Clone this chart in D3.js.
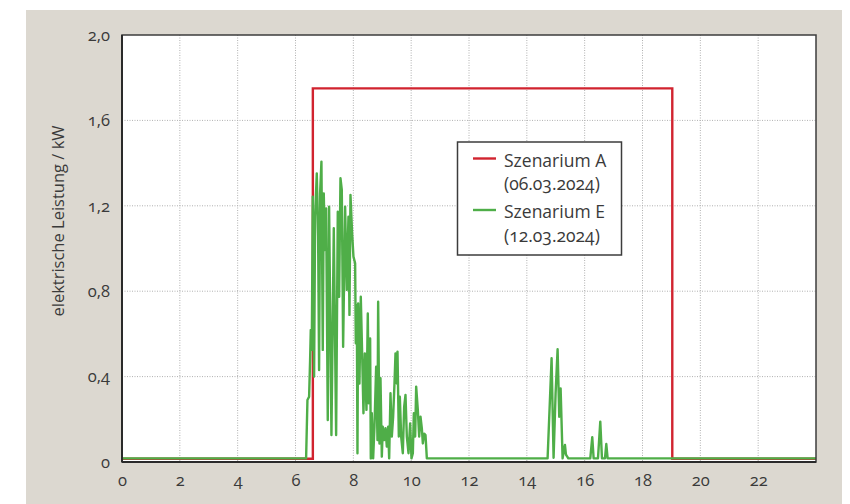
<!DOCTYPE html>
<html><head><meta charset="utf-8">
<script src="https://cdn.jsdelivr.net/npm/d3@7"></script>
<style>
html,body{margin:0;padding:0;background:#fff;}
svg text{font-family:"Open Sans",sans-serif;font-feature-settings:"onum" 1;font-variant-numeric:oldstyle-nums;fill:#3a3a3a;}
</style></head>
<body><svg id="c" width="850" height="504"></svg>
<script>
const xTicks = [0,2,4,6,8,10,12,14,16,18,20,22];
const yTicks = [0,0.4,0.8,1.2,1.6,2.0];
const yTickLabels = ["0","0,4","0,8","1,2","1,6","2,0"];
const yTitle = "elektrische Leistung / kW";
const seriesNames = ["Szenarium A","Szenarium E"];
const seriesDates = ["(06.03.2024)","(12.03.2024)"];

const redHours  = [0, 6.6, 6.6, 19.03, 19.03, 24];
const redValues = [0.015, 0.015, 1.75, 1.75, 0.015, 0.015];

const greenHours = [0,6.367,6.413,6.47,6.505,6.528,6.563,6.597,6.643,6.678,6.736,6.782,6.816,6.851,6.897,6.943,6.978,7.013,7.059,7.116,7.162,7.209,7.243,7.324,7.405,7.462,7.509,7.555,7.601,7.647,7.716,7.774,7.831,7.866,7.901,7.958,8.004,8.062,8.085,8.12,8.143,8.166,8.212,8.258,8.304,8.35,8.397,8.454,8.5,8.535,8.581,8.604,8.639,8.685,8.731,8.789,8.835,8.858,8.904,8.939,8.985,9.019,9.066,9.112,9.158,9.204,9.239,9.285,9.331,9.377,9.423,9.458,9.504,9.527,9.573,9.608,9.654,9.711,9.758,9.804,9.85,9.908,9.965,10.011,10.058,10.092,10.138,10.173,10.23,10.277,10.323,10.369,10.404,10.45,10.496,10.542,14.718,14.856,14.925,14.995,15.064,15.121,15.168,15.237,15.271,15.318,15.352,15.387,15.433,16.194,16.263,16.31,16.46,16.54,16.598,16.702,16.748,16.794,24];
const greenValues = [0.017,0.017,0.29,0.306,0.478,0.618,0.525,1.243,0.40,1.149,1.352,1.055,0.431,1.258,1.407,0.525,1.258,0.993,1.188,0.197,1.196,0.587,0.126,1.095,0.126,1.172,0.774,1.329,1.274,0.54,1.196,0.806,1.149,0.689,1.251,1.071,0.962,0.931,0.556,0.735,0.041,0.743,0.368,0.774,0.509,0.228,0.509,0.244,0.696,0.275,0.579,0.017,0.228,0.017,0.165,0.446,0.103,0.751,0.087,0.392,0.025,0.165,0.103,0.158,0.072,0.165,0.017,0.322,0.119,0.212,0.368,0.509,0.368,0.517,0.119,0.306,0.119,0.041,0.259,0.314,0.119,0.041,0.181,0.017,0.041,0.228,0.119,0.353,0.244,0.119,0.212,0.158,0.087,0.133,0.126,0.017,0.017,0.486,0.02,0.322,0.528,0.212,0.345,0.017,0.048,0.08,0.035,0.027,0.017,0.017,0.116,0.017,0.017,0.189,0.017,0.017,0.084,0.017,0.017];

const svg = d3.select("#c");
const m = {left:122, top:35, right:816, bottom:462};
svg.append("rect").attr("x",26).attr("y",10).attr("width",816).attr("height",494).attr("fill","#dcd8d0");

const x = d3.scaleLinear().domain([0,24]).range([m.left,m.right]);
const y = d3.scaleLinear().domain([0,2]).range([m.bottom,m.top]);

svg.append("rect").attr("x",m.left).attr("y",m.top).attr("width",m.right-m.left).attr("height",m.bottom-m.top).attr("fill","#fff");

// grid
const g = svg.append("g");
g.selectAll("line.vx").data(xTicks.filter(d=>d>0)).join("line")
 .attr("x1",d=>x(d)).attr("x2",d=>x(d)).attr("y1",m.top).attr("y2",m.bottom)
 .attr("stroke","#b0b0b0").attr("stroke-width",1).attr("stroke-dasharray","1,1.5");
g.selectAll("line.hy").data(yTicks.filter(d=>d>0&&d<2)).join("line")
 .attr("y1",d=>y(d)).attr("y2",d=>y(d)).attr("x1",m.left).attr("x2",m.right)
 .attr("stroke","#b0b0b0").attr("stroke-width",1).attr("stroke-dasharray","1,1.5");

// axes
const xAxis = d3.axisBottom(x).tickValues(xTicks).tickSize(0).tickPadding(12).tickFormat(d=>String(d));
const ax = svg.append("g").attr("transform",`translate(0,${m.bottom})`).call(xAxis);
ax.select(".domain").remove();
ax.selectAll("text").attr("font-size",16.5).attr("fill","#3a3a3a").style("font-family",'"Open Sans",sans-serif');

const yAxis = d3.axisLeft(y).tickValues(yTicks).tickSize(0).tickPadding(12).tickFormat((d,i)=>yTickLabels[i]);
const ay = svg.append("g").attr("transform",`translate(${m.left},0)`).call(yAxis);
ay.select(".domain").remove();
ay.selectAll("text").attr("font-size",16.5).attr("fill","#3a3a3a").style("font-family",'"Open Sans",sans-serif');

svg.append("text").attr("transform",`translate(64,221) rotate(-90)`).attr("text-anchor","middle")
 .attr("font-size",16.5).text(yTitle);

// lines
const line = d3.line().x(d=>x(d[0])).y(d=>y(d[1]));
const red = redHours.map((h,i)=>[h,redValues[i]]);
const green = greenHours.map((h,i)=>[h,greenValues[i]]);
svg.append("path").datum(red).attr("d",line).attr("fill","none").attr("stroke","#d1232f").attr("stroke-width",2.4);
svg.append("path").datum(green).attr("d",line).attr("fill","none").attr("stroke","#4fae48").attr("stroke-width",2.4).attr("stroke-linejoin","round");

// frame
svg.append("rect").attr("x",m.left).attr("y",m.top).attr("width",m.right-m.left).attr("height",m.bottom-m.top)
 .attr("fill","none").attr("stroke","#3c3c3c").attr("stroke-width",1.5);
svg.append("line").attr("x1",m.left).attr("x2",m.right).attr("y1",m.bottom).attr("y2",m.bottom).attr("stroke","#2a2a2a").attr("stroke-width",2);
svg.append("line").attr("x1",m.left).attr("x2",m.left).attr("y1",m.top).attr("y2",m.bottom).attr("stroke","#2a2a2a").attr("stroke-width",2);

// legend
const lg = svg.append("g");
lg.append("rect").attr("x",457.5).attr("y",142).attr("width",164).attr("height",113).attr("fill","#fff").attr("stroke","#3c3c3c").attr("stroke-width",1.5);
const colors = ["#d1232f","#4fae48"];
const ly = [158.5,210];
seriesNames.forEach((n,i)=>{
  lg.append("line").attr("x1",473).attr("x2",496).attr("y1",ly[i]).attr("y2",ly[i]).attr("stroke",colors[i]).attr("stroke-width",2.4);
  lg.append("text").attr("x",504).attr("y",ly[i]+8).attr("font-size",17.5).text(n);
  lg.append("text").attr("x",504).attr("y",ly[i]+31.5).attr("font-size",17.5).text(seriesDates[i]);
});
</script></body></html>
